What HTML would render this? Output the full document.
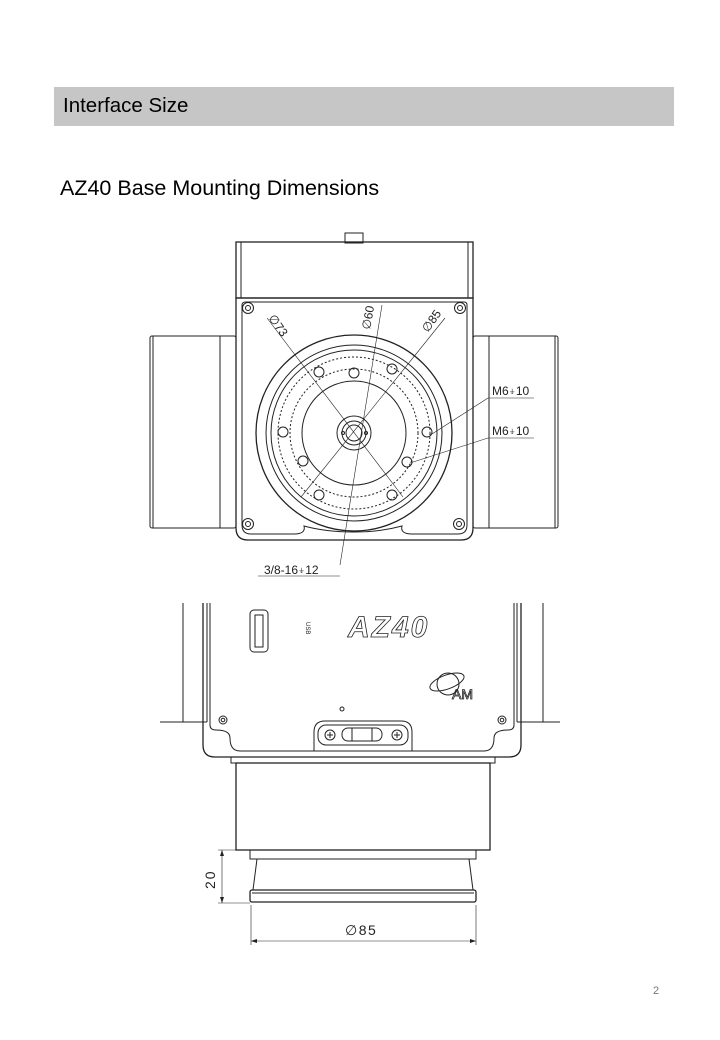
<!DOCTYPE html>
<html><head><meta charset="utf-8"><style>
html,body{margin:0;padding:0;background:#fff;}
body{width:720px;height:1040px;position:relative;overflow:hidden;font-family:"Liberation Sans",sans-serif;}
.bar{position:absolute;left:54px;top:87px;width:620px;height:39px;background:#c6c6c6;}
.bar span{position:absolute;left:9px;top:7px;font-size:20.5px;color:#000;}
.h2{position:absolute;left:60px;top:176px;font-size:21.5px;color:#000;}
.pg{position:absolute;left:653px;top:985px;font-size:11px;color:#777;}
svg{position:absolute;left:0;top:0;}
</style></head><body>
<div class="bar"><span>Interface Size</span></div>
<div class="h2">AZ40 Base Mounting Dimensions</div>
<div class="pg">2</div>
<svg width="720" height="1040" viewBox="0 0 720 1040" fill="none" stroke="#222" stroke-width="1">
<rect x="345" y="233" width="18" height="10"/>
<rect x="236" y="242" width="237" height="56" stroke-width="1.3"/>
<line x1="241" y1="242" x2="241" y2="298"/><line x1="468" y1="242" x2="468" y2="298"/>
<rect x="150" y="336" width="86" height="192" rx="2"/>
<line x1="220" y1="336" x2="220" y2="528"/><line x1="153" y1="336" x2="153" y2="528"/>
<rect x="473" y="336" width="85" height="192" rx="2"/>
<line x1="489" y1="336" x2="489" y2="528"/><line x1="555" y1="336" x2="555" y2="528"/>
<path d="M236 298 H473 V528 Q473 540 461 540 H248 Q236 540 236 528 Z" stroke-width="1.3"/>
<path d="M242 305 Q242 302 246 302 H464 Q467 302 467 305 V525 Q467 534 458 534 H412 Q400 534 402 526 Q380 532 353 532 Q326 532 304 526 Q306 534 294 534 H251 Q242 534 242 525 Z"/>
<circle cx="354" cy="433" r="98" stroke-width="1.3"/>
<circle cx="354" cy="433" r="88"/>
<circle cx="354" cy="433" r="83"/>
<circle cx="354" cy="433" r="76" stroke-dasharray="2 2"/>
<circle cx="354" cy="433" r="64" stroke-dasharray="2 2"/>
<circle cx="354" cy="433" r="52"/>
<circle cx="354" cy="433" r="17"/>
<circle cx="354" cy="433" r="12"/>
<circle cx="354" cy="433" r="8"/>
<circle cx="343" cy="433" r="1.5"/><circle cx="366" cy="433" r="1.5"/>
<g>
<circle cx="319" cy="372" r="5"/><circle cx="354" cy="373" r="5"/><circle cx="392" cy="369" r="5"/>
<circle cx="283" cy="432" r="5"/><circle cx="427" cy="432" r="5"/>
<circle cx="303" cy="461" r="5"/><circle cx="407" cy="462" r="5"/>
<circle cx="319" cy="495" r="5"/><circle cx="392" cy="495" r="5"/>
</g>
<g>
<circle cx="248" cy="308" r="5.5"/><circle cx="248" cy="308" r="2.5"/>
<circle cx="460" cy="308" r="5.5"/><circle cx="460" cy="308" r="2.5"/>
<circle cx="248" cy="524" r="5.5"/><circle cx="248" cy="524" r="2.5"/>
<circle cx="459" cy="524" r="5.5"/><circle cx="459" cy="524" r="2.5"/>
</g>
<g stroke-width="0.6">
<line x1="267" y1="318" x2="403" y2="497"/>
<line x1="445" y1="318" x2="301" y2="497"/>
<line x1="382" y1="305" x2="340" y2="565"/>
<line x1="258" y1="576" x2="340" y2="576"/>
<line x1="488" y1="398" x2="534" y2="398"/><line x1="488" y1="398" x2="432" y2="434"/>
<line x1="488" y1="438" x2="534" y2="438"/><line x1="488" y1="438" x2="410" y2="463"/>
</g>
<g fill="#222" stroke="none" font-family="Liberation Sans,sans-serif" font-size="12">
<text x="0" y="0" transform="translate(268,318) rotate(55)">∅73</text>
<text x="0" y="0" transform="translate(370,330) rotate(-80)">∅60</text>
<text x="0" y="0" transform="translate(428,333) rotate(-55)">∅85</text>
<text x="492" y="395">M6⍖10</text>
<text x="492" y="435">M6⍖10</text>
<text x="264" y="574">3/8-16⍖12</text>
</g>
<line x1="183" y1="603" x2="183" y2="722"/><line x1="207" y1="603" x2="207" y2="722"/>
<line x1="160" y1="722" x2="207" y2="722"/>
<line x1="543" y1="603" x2="543" y2="722"/><line x1="517" y1="603" x2="517" y2="722"/>
<line x1="517" y1="722" x2="560" y2="722"/>
<path d="M203 603 V745 Q203 757 215 757 H509 Q521 757 521 745 V603" stroke-width="1.3"/>
<path d="M210 603 V725 Q210 730 216 730 Q230 730 230 738 Q230 751 240 751 H484 Q494 751 494 738 Q494 730 508 730 Q514 730 514 725 V603"/>
<rect x="250" y="610" width="18" height="42" rx="4"/>
<rect x="255" y="615" width="8" height="32"/>
<text x="0" y="0" transform="translate(306,622) rotate(90)" font-size="6" fill="#222" stroke="none">USB</text>
<text x="348" y="637" font-size="30" font-style="italic" font-weight="bold" fill="none" stroke="#222" stroke-width="0.8" font-family="Liberation Sans,sans-serif" letter-spacing="2">AZ40</text>
<ellipse cx="447" cy="682" rx="18" ry="7" transform="rotate(-20 447 682)"/>
<circle cx="448" cy="684" r="11"/>
<text x="452" y="699" font-size="14" fill="none" stroke="#222" stroke-width="0.8">AM</text>
<circle cx="342" cy="709" r="2"/>
<circle cx="223" cy="720" r="4"/><circle cx="223" cy="720" r="1.8"/>
<circle cx="502" cy="720" r="4"/><circle cx="502" cy="720" r="1.8"/>
<path d="M314 751 V732 Q314 721 325 721 H401 Q412 721 412 732 V751"/>
<rect x="318" y="725" width="90" height="20" rx="8"/>
<circle cx="330" cy="735" r="5"/><line x1="327" y1="735" x2="333" y2="735"/><line x1="330" y1="732" x2="330" y2="738"/>
<circle cx="397" cy="735" r="5"/><line x1="394" y1="735" x2="400" y2="735"/><line x1="397" y1="732" x2="397" y2="738"/>
<rect x="342" y="728" width="40" height="13" rx="6"/>
<line x1="352" y1="728" x2="352" y2="741"/><line x1="372" y1="728" x2="372" y2="741"/>
<rect x="231" y="757" width="264" height="6"/>
<rect x="236" y="763" width="254" height="87" stroke-width="1.3"/>
<rect x="250" y="850" width="226" height="9"/>
<path d="M257 859 L253 890 M469 859 L473 890"/>
<rect x="250" y="890" width="226" height="12" rx="2" stroke-width="1.3"/>
<line x1="252" y1="893" x2="474" y2="893"/>
<g stroke-width="0.6">
<line x1="218" y1="850" x2="236" y2="850"/><line x1="218" y1="903" x2="250" y2="903"/>
<line x1="222" y1="850" x2="222" y2="903"/>
<line x1="251" y1="905" x2="251" y2="945"/><line x1="476" y1="905" x2="476" y2="945"/>
<line x1="251" y1="941" x2="476" y2="941"/>
</g>
<path d="M222 850 l-2 6 h4 z M222 903 l-2 -6 h4 z M251 941 l6 -2 v4 z M476 941 l-6 -2 v4 z" fill="#222" stroke="none"/>
<g fill="#222" stroke="none" font-size="14">
<text x="0" y="0" transform="translate(215,889) rotate(-90)" letter-spacing="2">20</text>
<text x="345" y="935" letter-spacing="1.5">∅85</text>
</g>
</svg>
</body></html>
